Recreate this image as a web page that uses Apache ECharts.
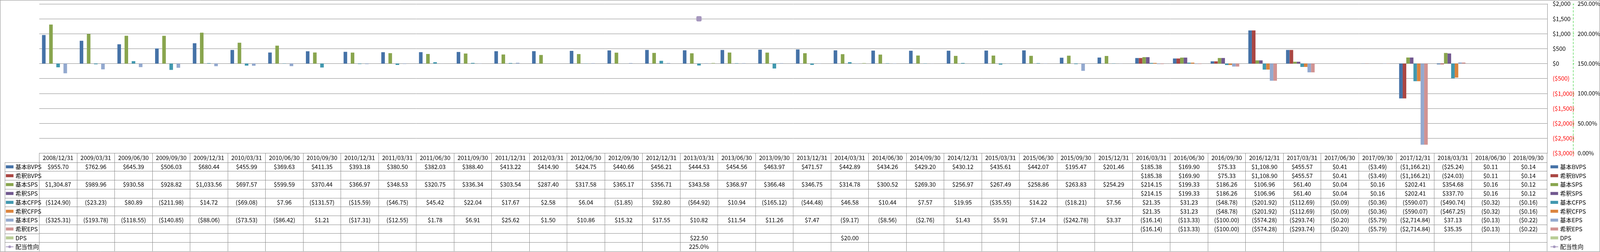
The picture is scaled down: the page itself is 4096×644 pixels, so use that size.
<!DOCTYPE html>
<html><head><meta charset="utf-8">
<script src="https://cdn.jsdelivr.net/npm/echarts@6/dist/echarts.min.js"></script>
<style>html,body{margin:0;padding:0;background:#fff}#c{width:4096px;height:644px}</style>
</head><body><div id="c"></div>
<script>
const categories = ['2008/12/31','2009/03/31','2009/06/30','2009/09/30','2009/12/31','2010/03/31','2010/06/30','2010/09/30','2010/12/31','2011/03/31','2011/06/30','2011/09/30','2011/12/31','2012/03/31','2012/06/30','2012/09/30','2012/12/31','2013/03/31','2013/06/30','2013/09/30','2013/12/31','2014/03/31','2014/06/30','2014/09/30','2014/12/31','2015/03/31','2015/06/30','2015/09/30','2015/12/31','2016/03/31','2016/06/30','2016/09/30','2016/12/31','2017/03/31','2017/06/30','2017/09/30','2017/12/31','2018/03/31','2018/06/30','2018/09/30'];
const N = null;
const basicBVPS = [955.70,762.96,645.39,506.03,680.44,455.99,369.63,411.35,393.18,380.50,382.03,388.40,413.22,414.90,424.75,440.66,456.21,444.53,454.56,463.97,471.57,442.89,434.26,429.20,430.12,435.61,442.07,195.47,201.46,185.38,169.90,75.33,1108.90,455.57,0.41,-3.49,-1166.21,-25.24,0.11,0.14];
const dilutedBVPS = [N,N,N,N,N,N,N,N,N,N,N,N,N,N,N,N,N,N,N,N,N,N,N,N,N,N,N,N,N,185.38,169.90,75.33,1108.90,455.57,0.41,-3.49,-1166.21,-24.03,0.11,0.14];
const basicSPS = [1304.87,989.96,930.58,928.82,1033.56,697.57,599.59,370.44,366.97,348.53,320.75,336.34,303.54,287.40,317.58,365.17,356.71,343.58,368.97,366.48,346.75,314.78,300.52,269.30,256.97,267.49,258.86,263.83,254.29,214.15,199.33,186.26,106.96,61.40,0.04,0.16,202.41,354.68,0.16,0.12];
const dilutedSPS = [N,N,N,N,N,N,N,N,N,N,N,N,N,N,N,N,N,N,N,N,N,N,N,N,N,N,N,N,N,214.15,199.33,186.26,106.96,61.40,0.04,0.16,202.41,337.70,0.16,0.12];
const basicCFPS = [-124.90,-23.23,80.89,-211.98,14.72,-69.08,7.96,-131.57,-15.59,-46.75,45.42,22.04,17.67,2.58,6.04,-1.85,92.80,-64.92,10.94,-165.12,-44.48,46.58,10.44,7.57,19.95,-35.55,14.22,-18.21,7.56,21.35,31.23,-48.78,-201.92,-112.69,-0.09,-0.36,-590.07,-490.74,-0.32,-0.16];
const dilutedCFPS = [N,N,N,N,N,N,N,N,N,N,N,N,N,N,N,N,N,N,N,N,N,N,N,N,N,N,N,N,N,21.35,31.23,-48.78,-201.92,-112.69,-0.09,-0.36,-590.07,-467.25,-0.32,-0.16];
const basicEPS = [-325.31,-193.78,-118.55,-140.85,-88.06,-73.53,-86.42,1.21,-17.31,-12.55,1.78,6.91,25.62,1.50,10.86,15.32,17.55,10.82,11.54,11.26,7.47,-9.17,-8.56,-2.76,1.43,5.91,7.14,-242.78,3.37,-16.14,-13.33,-100.00,-574.28,-293.74,-0.20,-5.79,-2714.84,37.13,-0.13,-0.22];
const dilutedEPS = [N,N,N,N,N,N,N,N,N,N,N,N,N,N,N,N,N,N,N,N,N,N,N,N,N,N,N,N,N,-16.14,-13.33,-100.00,-574.28,-293.74,-0.20,-5.79,-2714.84,35.35,-0.13,-0.22];
const dps = [N,N,N,N,N,N,N,N,N,N,N,N,N,N,N,N,N,22.50,N,N,N,20.00,N,N,N,N,N,N,N,N,N,N,N,N,N,N,N,N,N,N];
const payoutRatio = [N,N,N,N,N,N,N,N,N,N,N,N,N,N,N,N,N,225.0,N,N,N,N,N,N,N,N,N,N,N,N,N,N,N,N,N,N,N,N,N,N];
const leftTicks = [-3000,-2500,-2000,-1500,-1000,-500,0,500,1000,1500,2000];
const rightTicks = [0,50,100,150,200,250];

const barSeries = [
  {name:'基本BVPS', data:basicBVPS, color:'#4572A7'},
  {name:'希釈BVPS', data:dilutedBVPS, color:'#AA4643'},
  {name:'基本SPS', data:basicSPS, color:'#89A54E'},
  {name:'希釈SPS', data:dilutedSPS, color:'#71588F'},
  {name:'基本CFPS', data:basicCFPS, color:'#4198AF'},
  {name:'希釈CFPS', data:dilutedCFPS, color:'#DB843D'},
  {name:'基本EPS', data:basicEPS, color:'#93A9CF'},
  {name:'希釈EPS', data:dilutedEPS, color:'#D19392'},
  {name:'DPS', data:dps, color:'#B9CD96'}
];
const lineName = '配当性向';
const lineColor = '#A697BE';

const S = 0.75;
const W = 4096, H = 644;
const FONT = '"Noto Sans CJK JP", "Liberation Sans", sans-serif';
const FS = 15;
const GRAY = '#878787';
const gridLeft = 134*S, gridRightX = 5281*S, gridTop = 13*S, gridBottomY = 522*S;
const headerH = (553.3-522)*S;
const rowH = 30.27*S;
const tableTop = gridBottomY + headerH;
const legColX = 17*S;

function money(v){
  if (v == null) return '';
  const s = '$' + Math.abs(v).toLocaleString('en-US',{minimumFractionDigits:2, maximumFractionDigits:2});
  return v < 0 ? '(' + s + ')' : s;
}
function moneyAxis(v){
  const s = '$' + Math.abs(v).toLocaleString('en-US');
  return v < 0 ? '(' + s + ')' : s;
}
function pct(v){ return v == null ? '' : v.toFixed(1) + '%'; }

const rows = barSeries.map(s => ({data:s.data, fmt:money})).concat([{data:payoutRatio, fmt:pct}]);

const xAxes = [{
  type:'category', data:categories, gridIndex:0, position:'bottom',
  axisLine:{show:true, onZero:false, lineStyle:{color:GRAY, width:1}},
  axisTick:{show:true, interval:0, length:headerH, lineStyle:{color:GRAY, width:1}},
  axisLabel:{interval:0, margin:headerH/2, verticalAlign:'middle', fontSize:FS, color:'#000', fontFamily:FONT},
  splitLine:{show:false}
}].concat(rows.map((r,i) => ({
  type:'category', data:categories, gridIndex:0, position:'bottom',
  offset: headerH + i*rowH,
  axisLine:{show:true, onZero:false, lineStyle:{color:GRAY, width:1}},
  axisTick:{show:true, interval:0, length:rowH, lineStyle:{color:GRAY, width:1}},
  axisLabel:{interval:0, margin:rowH/2, verticalAlign:'middle', fontSize:FS, color:'#000', fontFamily:FONT,
    formatter:(v, idx) => r.fmt(r.data[idx])},
  splitLine:{show:false}
})));

const series = barSeries.map(s => ({
  type:'bar', name:s.name, data:s.data, xAxisIndex:0, yAxisIndex:0,
  barGap:'0%', barCategoryGap:'14.6%',
  itemStyle:{color:s.color}, emphasis:{disabled:true}
})).concat([{
  type:'line', name:lineName, data:payoutRatio, xAxisIndex:0, yAxisIndex:1,
  symbol:'roundRect', symbolSize:13.5, showAllSymbol:true, connectNulls:false,
  itemStyle:{color:lineColor}, lineStyle:{color:lineColor, width:3}, z:10,
  emphasis:{disabled:true}
}]);

const legendData = barSeries.map(s => ({name:s.name, icon:'rect'})).concat([{name:lineName}]);
function legendAt(x){
  return {
    orient:'vertical', left:x, top:tableTop, padding:0, itemGap:0,
    itemWidth:19.5, itemHeight:7.7, selectedMode:false,
    textStyle:{fontSize:FS, lineHeight:rowH, color:'#000', fontFamily:FONT},
    data:legendData
  };
}

const graphics = [{
  type:'rect', shape:{x:0.5, y:0.5, width:W-1, height:H-1.5},
  style:{fill:'none', stroke:GRAY, lineWidth:1}, silent:true
}];
for (let i = 0; i < rows.length; i++) {
  const y = Math.round(tableTop + i*rowH) + 0.5;
  graphics.push({type:'line', shape:{x1:legColX, y1:y, x2:gridLeft, y2:y}, style:{stroke:GRAY, lineWidth:1}, silent:true});
}
graphics.push({type:'line', shape:{x1:legColX, y1:tableTop, x2:legColX, y2:H-1}, style:{stroke:GRAY, lineWidth:1}, silent:true});

const chart = echarts.init(document.getElementById('c'), null, {renderer:'canvas'});
chart.setOption({
  animation:false,
  backgroundColor:'#fff',
  textStyle:{fontFamily:FONT},
  grid:{left:gridLeft, top:gridTop, width:gridRightX-gridLeft, height:gridBottomY-gridTop, containLabel:false, outerBoundsMode:'none'},
  legend:[legendAt(14), legendAt(5291*S)],
  xAxis:xAxes,
  yAxis:[{
    type:'value', min:leftTicks[0], max:leftTicks[leftTicks.length-1], interval:500, position:'right',
    axisLine:{show:true, lineStyle:{color:GRAY, width:1}},
    axisTick:{show:false},
    splitLine:{show:true, lineStyle:{color:GRAY, width:1}},
    axisLabel:{margin:14, fontSize:FS, fontFamily:FONT, formatter:moneyAxis,
      color:(v) => (Number(v) < 0 ? '#FF0000' : '#000')}
  },{
    type:'value', min:rightTicks[0], max:rightTicks[rightTicks.length-1], interval:50, position:'right',
    offset: 5369*S - gridRightX,
    axisLine:{show:true, lineStyle:{color:'#22CC22', width:1, type:[5,4]}},
    axisTick:{show:true, length:3, lineStyle:{color:'#22CC22', width:1}},
    splitLine:{show:false},
    axisLabel:{margin:12, fontSize:14.6, fontFamily:FONT, color:'#000', formatter:(v) => Number(v).toFixed(2) + '%'}
  }],
  series:series,
  graphic:graphics
});
</script></body></html>
